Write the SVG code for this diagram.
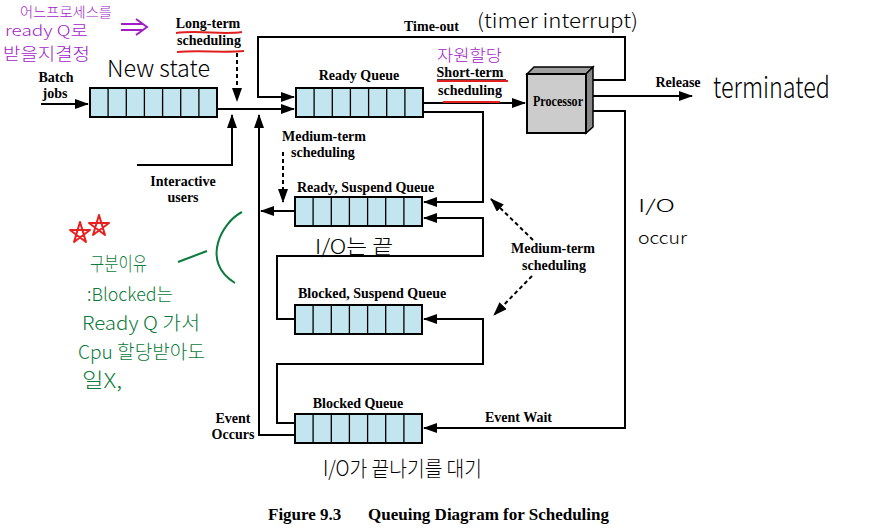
<svg xmlns="http://www.w3.org/2000/svg" width="871" height="530" viewBox="0 0 871 530">
<style>
.lbl{font-family:"Liberation Serif","Times New Roman",serif;font-weight:bold;font-size:14px;fill:#000}
.cap{font-family:"Liberation Serif","Times New Roman",serif;font-weight:bold;font-size:17px;fill:#000}
.hw{font-family:"Noto Sans CJK KR","Noto Sans",sans-serif;font-weight:300}
.pur{fill:#a21cc8}
.blk{fill:#000}
.grn{fill:#0b7a3b}
.ln{fill:none;stroke:#000;stroke-width:2}
.dash{fill:none;stroke:#000;stroke-width:2;stroke-dasharray:4,3}
.q{fill:#c2e5f0;stroke:#000;stroke-width:2}
.qd{stroke:#000;stroke-width:1.3}
</style>
<defs>
<marker id="ah" markerUnits="userSpaceOnUse" markerWidth="14" markerHeight="10" refX="13" refY="5" orient="auto">
<path d="M0,0 L14,5 L0,10 z" fill="#000"/>
</marker>
<g id="queue">
<rect class="q" x="0" y="0" width="127" height="29"/>
<path class="qd" d="M18.1,0V29M36.3,0V29M54.4,0V29M72.6,0V29M90.7,0V29M108.9,0V29"/>
</g>
</defs>
<rect width="871" height="530" fill="#fff"/>

<g id="connectors">
<path class="ln" d="M41,104 H88" marker-end="url(#ah)"/>
<path class="ln" d="M217,109 H294" marker-end="url(#ah)"/>
<path class="ln" d="M588,80 H625 V37 H258 V97 H294" marker-end="url(#ah)"/>
<path class="dash" d="M237,53 V101" marker-end="url(#ah)"/>
<path class="ln" d="M137,165 H232 V115" marker-end="url(#ah)"/>
<path class="ln" d="M295,435 H259 V115" marker-end="url(#ah)"/>
<path class="ln" d="M295,211 H261" marker-end="url(#ah)"/>
<path class="dash" d="M283,152 V202" marker-end="url(#ah)"/>
<path class="ln" d="M423,103 H525" marker-end="url(#ah)"/>
<path class="ln" d="M423,112 H483 V202 H424" marker-end="url(#ah)"/>
<path class="ln" d="M295,319 H277 V256 H483 V218 H424" marker-end="url(#ah)"/>
<path class="ln" d="M295,423 H277 V364 H483 V319 H424" marker-end="url(#ah)"/>
<path class="ln" d="M588,96 H692" marker-end="url(#ah)"/>
<path class="ln" d="M588,111 H625 V428 H424" marker-end="url(#ah)"/>
<path class="dash" d="M533,240 L491,199" marker-end="url(#ah)"/>
<path class="dash" d="M532,276 L494,315" marker-end="url(#ah)"/>
</g>

<g id="new-queue"><use href="#queue" x="90" y="88"/></g>
<g id="ready-queue"><use href="#queue" x="296" y="88"/>
<text class="lbl" x="359" y="80" text-anchor="middle">Ready Queue</text></g>
<g id="ready-suspend-queue"><use href="#queue" x="295" y="197"/>
<text class="lbl" x="297" y="192">Ready, Suspend Queue</text></g>
<g id="blocked-suspend-queue"><use href="#queue" x="295" y="305"/>
<text class="lbl" x="298" y="298">Blocked, Suspend Queue</text></g>
<g id="blocked-queue"><use href="#queue" x="295" y="414"/>
<text class="lbl" x="358" y="408" text-anchor="middle">Blocked Queue</text></g>

<g id="processor">
<path d="M527,74 L534,67 H593 L586,74 z" fill="#a0a0a0" stroke="#000" stroke-width="1.5"/>
<path d="M586,74 L593,67 V127 L586,133 z" fill="#888" stroke="#000" stroke-width="1.5"/>
<rect x="527" y="74" width="59" height="59" fill="#cccccc" stroke="#000" stroke-width="2"/>
<text class="lbl" x="533" y="106" font-size="12" textLength="50" lengthAdjust="spacingAndGlyphs">Processor</text>
</g>

<g id="labels">
<text class="lbl" x="56" y="82" text-anchor="middle">Batch</text>
<text class="lbl" x="55" y="98" text-anchor="middle">jobs</text>
<text class="lbl" x="208" y="28" text-anchor="middle">Long-term</text>
<text class="lbl" x="209" y="45" text-anchor="middle">scheduling</text>
<text class="lbl" x="404" y="31">Time-out</text>
<text class="lbl" x="470" y="77" text-anchor="middle">Short-term</text>
<text class="lbl" x="470" y="95" text-anchor="middle">scheduling</text>
<line x1="437" y1="80" x2="506" y2="80" stroke="#000" stroke-width="1.5"/>
<text class="lbl" x="678" y="87" text-anchor="middle">Release</text>
<text class="lbl" x="282" y="141">Medium-term</text>
<text class="lbl" x="291" y="157">scheduling</text>
<text class="lbl" x="183" y="186" text-anchor="middle">Interactive</text>
<text class="lbl" x="183" y="202" text-anchor="middle">users</text>
<text class="lbl" x="553" y="253" text-anchor="middle">Medium-term</text>
<text class="lbl" x="554" y="270" text-anchor="middle">scheduling</text>
<text class="lbl" x="485" y="422">Event Wait</text>
<text class="lbl" x="233" y="423" text-anchor="middle">Event</text>
<text class="lbl" x="233" y="439" text-anchor="middle">Occurs</text>
<text class="cap" x="268" y="520">Figure 9.3</text>
<text class="cap" x="368" y="520">Queuing Diagram for Scheduling</text>
</g>

<g id="annotations">
<text class="hw pur" x="20" y="17" font-size="14" textLength="92" lengthAdjust="spacingAndGlyphs">어느프로세스를</text>
<text class="hw pur" x="5" y="36" font-size="15" textLength="83" lengthAdjust="spacingAndGlyphs">ready  Q로</text>
<text class="hw pur" x="3" y="60" font-size="17" textLength="87" lengthAdjust="spacingAndGlyphs">받을지결정</text>
<path d="M121,24 H143 M121,30 H143 M136,19 L147,27 L136,35" fill="none" stroke="#a21cc8" stroke-width="2"/>
<path d="M176,33 C200,30 222,35 242,32 M177,52 C200,50 222,53 244,51" fill="none" stroke="#e02020" stroke-width="2"/>
<path d="M437,81 H508 M443,102 H500" fill="none" stroke="#e02020" stroke-width="2"/>
<text class="hw pur" x="437" y="61" font-size="16" textLength="65" lengthAdjust="spacingAndGlyphs">자원할당</text>
<text class="hw blk" x="107" y="77" font-size="23" textLength="103" lengthAdjust="spacingAndGlyphs">New state</text>
<text class="hw blk" x="477" y="28" font-size="20" textLength="161" lengthAdjust="spacingAndGlyphs">(timer interrupt)</text>
<text class="hw blk" x="713" y="98" font-size="29" textLength="117" lengthAdjust="spacingAndGlyphs">terminated</text>
<text class="hw blk" x="638" y="212" font-size="17" textLength="37" lengthAdjust="spacingAndGlyphs">I/O</text>
<text class="hw blk" x="638" y="244" font-size="17" textLength="49" lengthAdjust="spacingAndGlyphs">occur</text>
<text class="hw blk" x="315" y="254" font-size="20" textLength="78" lengthAdjust="spacingAndGlyphs">I/O는 끝</text>
<text class="hw blk" x="323" y="476" font-size="21" textLength="159" lengthAdjust="spacingAndGlyphs">I/O가 끝나기를 대기</text>
<path d="M80,222 L86,242 L70,230 L90,230 L74,242 z M99,215 L105,235 L89,223 L109,223 L93,235 z" fill="none" stroke="#e82020" stroke-width="2" stroke-linejoin="round"/>
<text class="hw grn" x="90" y="271" font-size="19" textLength="57" lengthAdjust="spacingAndGlyphs">구분이유</text>
<text class="hw grn" x="87" y="301" font-size="18" textLength="86" lengthAdjust="spacingAndGlyphs">:Blocked는</text>
<text class="hw grn" x="82" y="330" font-size="19" textLength="118" lengthAdjust="spacingAndGlyphs">Ready Q 가서</text>
<text class="hw grn" x="78" y="359" font-size="19" textLength="127" lengthAdjust="spacingAndGlyphs">Cpu 할당받아도</text>
<text class="hw grn" x="82" y="388" font-size="20" textLength="40" lengthAdjust="spacingAndGlyphs">일X,</text>
<path d="M242,212 C222,222 200,262 235,283 M178,262 L207,251" fill="none" stroke="#0b7a3b" stroke-width="2"/>
</g>
</svg>
